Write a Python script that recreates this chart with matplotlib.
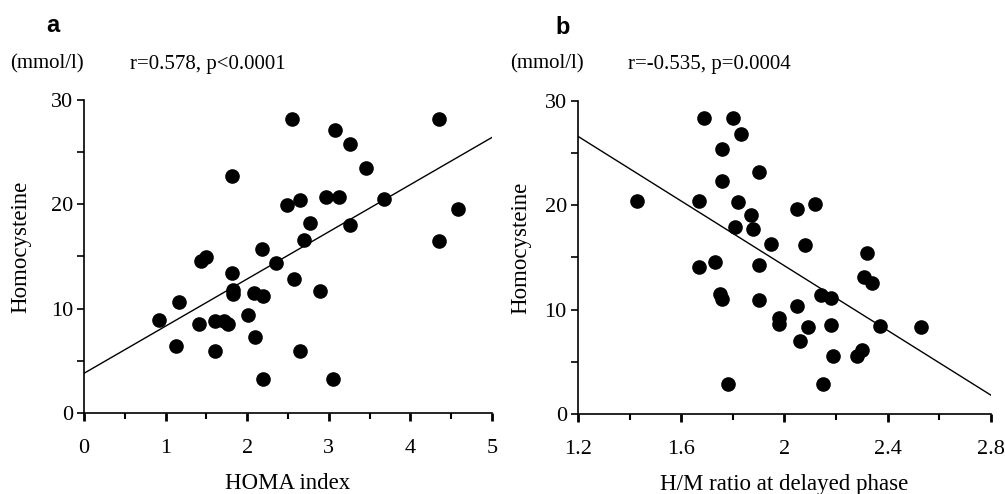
import matplotlib
matplotlib.use("Agg")
from matplotlib import pyplot as plt
from matplotlib.ticker import MultipleLocator, FuncFormatter

# panel a: HOMA index vs homocysteine
homa_x = [2.55, 3.07, 3.26, 4.35, 1.81, 3.46, 2.49, 2.65, 2.97, 3.12,
          3.68, 4.58, 2.77, 3.26, 2.69, 4.35, 2.18, 2.35, 1.43, 1.50,
          1.81, 2.57, 1.82, 1.82, 2.89, 2.08, 2.19, 1.17, 0.92, 1.41,
          1.61, 1.71, 1.77, 2.01, 2.09, 1.13, 1.61, 2.65, 2.19, 3.05]
homa_y = [28.2, 27.1, 25.8, 28.2, 22.7, 23.5, 19.9, 20.4, 20.7, 20.7,
          20.5, 19.5, 18.2, 18.0, 16.6, 16.5, 15.7, 14.4, 14.6, 14.9,
          13.4, 12.8, 11.8, 11.4, 11.7, 11.5, 11.2, 10.6, 8.9, 8.5,
          8.85, 8.85, 8.5, 9.4, 7.3, 6.45, 5.9, 5.9, 3.3, 3.3]
homa_fit_x = [0, 5]
homa_fit_y = [3.8, 26.4]

# panel b: H/M ratio vs homocysteine
hm_x = [1.69, 1.80, 1.83, 1.76, 1.90, 1.76, 1.43, 1.67, 1.82, 2.05,
        2.12, 1.87, 1.81, 1.88, 1.95, 2.08, 2.32, 1.67, 1.73, 1.90,
        2.31, 2.34, 1.75, 1.76, 1.90, 2.14, 2.18, 2.05, 1.98, 1.98,
        2.09, 2.18, 2.37, 2.53, 2.06, 2.19, 2.28, 2.30, 1.78, 2.15]
hm_y = [28.35, 28.35, 26.8, 25.4, 23.2, 22.3, 20.4, 20.4, 20.3, 19.6,
        20.1, 19.1, 17.9, 17.7, 16.3, 16.2, 15.4, 14.1, 14.6, 14.3,
        13.1, 12.5, 11.5, 11.0, 10.9, 11.4, 11.1, 10.3, 9.2, 8.65,
        8.3, 8.5, 8.4, 8.3, 7.0, 5.6, 5.55, 6.1, 2.9, 2.9]
hm_fit_x = [1.2, 2.8]
hm_fit_y = [26.6, 1.8]

serif = "Liberation Serif"
fs = 15
tick_fs = 16

fig = plt.figure(figsize=(10.05, 4.94), dpi=100)


def style_axis(ax, xlim, xmajor, xminor, xlabel, ylabel_x):
    ax.set_xlim(*xlim)
    ax.set_ylim(0, 30)
    for s in ["top", "right"]:
        ax.spines[s].set_visible(False)
    for s in ["left", "bottom"]:
        ax.spines[s].set_linewidth(1.2)
    ax.xaxis.set_major_locator(MultipleLocator(xmajor))
    ax.xaxis.set_minor_locator(MultipleLocator(xminor))
    ax.yaxis.set_major_locator(MultipleLocator(10))
    ax.yaxis.set_minor_locator(MultipleLocator(5))
    ax.xaxis.set_major_formatter(FuncFormatter(lambda v, p: "%g" % round(v, 2)))
    ax.tick_params(axis="x", which="major", direction="out", length=6, width=2, pad=13)
    ax.tick_params(axis="x", which="minor", direction="out", length=4, width=1.5)
    ax.tick_params(axis="y", which="both", direction="out", length=5, width=1.2, pad=3)
    for lab in ax.get_xticklabels() + ax.get_yticklabels():
        lab.set_fontfamily(serif)
        lab.set_fontsize(tick_fs)
    ax.set_xlabel(xlabel, fontfamily=serif, fontsize=16.5, va="center")
    ax.xaxis.set_label_coords(0.5, -0.224)
    ax.set_ylabel("Homocysteine", fontfamily=serif, fontsize=16.5, va="center")
    ax.yaxis.set_label_coords(ylabel_x, 0.53)


ax1 = fig.add_axes([0.0836, 0.164, 0.406, 0.634])
ax1.plot(homa_fit_x, homa_fit_y, color="black", linewidth=1.0)
ax1.plot(homa_x, homa_y, "o", color="black", markersize=9.5, clip_on=False)
style_axis(ax1, (0, 5), 1, 0.5, "HOMA index", -0.154)

ax2 = fig.add_axes([0.575, 0.162, 0.411, 0.634])
ax2.plot(hm_fit_x, hm_fit_y, color="black", linewidth=1.0)
ax2.plot(hm_x, hm_y, "o", color="black", markersize=9.5, clip_on=False)
style_axis(ax2, (1.2, 2.8), 0.4, 0.2, "H/M ratio at delayed phase", -0.138)

fig.text(53 / 1005, 1 - 26 / 494, "a", fontfamily="Liberation Sans", fontweight="bold",
         fontsize=17, ha="center", va="center")
fig.text(563 / 1005, 1 - 27 / 494, "b", fontfamily="Liberation Sans", fontweight="bold",
         fontsize=17, ha="center", va="center")

fig.text(10 / 1005, 1 - 64 / 494, "(mmol/l)", fontfamily=serif, fontsize=fs, va="center")
fig.text(130 / 1005, 1 - 64 / 494, "r=0.578, p<0.0001", fontfamily=serif, fontsize=fs, va="center")
fig.text(510 / 1005, 1 - 64 / 494, "(mmol/l)", fontfamily=serif, fontsize=fs, va="center")
fig.text(628 / 1005, 1 - 64 / 494, "r=-0.535, p=0.0004", fontfamily=serif, fontsize=fs, va="center")

fig.savefig("out.png", dpi=100)
